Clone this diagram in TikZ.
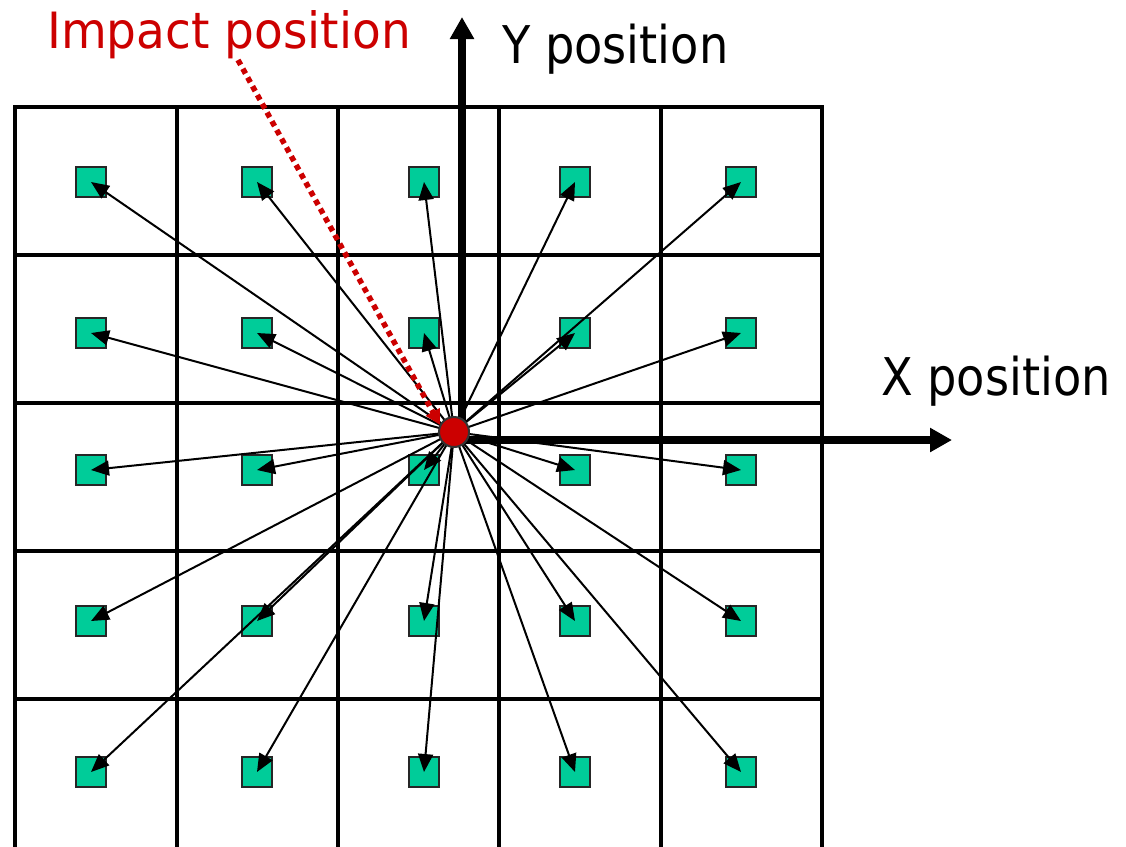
\documentclass[tikz,border=0pt]{standalone}
\usepackage{fontspec}
\setmainfont{DejaVu Sans}[FakeStretch=0.89]
\newfontfamily\impfont{DejaVu Sans}[FakeStretch=0.94]
\usetikzlibrary{arrows.meta}
\definecolor{impred}{RGB}{204,0,0}
\definecolor{sqgreen}{RGB}{0,204,153}
\tikzset{
  gridline/.style={line width=4pt,black},
  sensor/.style={draw=black!85,line width=2pt,fill=sqgreen,minimum size=30pt,inner sep=0pt,outer sep=0pt},
  ray/.style={line width=2pt,-{Triangle[length=18pt,width=15pt]}},
  axisline/.style={line width=7.5pt,-{Triangle[length=22pt,width=23pt]}},
  impact/.style={circle,draw=black!80,line width=2pt,fill=impred,minimum size=30pt,inner sep=0pt},
  pointer/.style={impred,line width=5.5pt,dash pattern=on 5.5pt off 4.5pt,-{Triangle[length=15pt,width=15pt]}},
  lbl/.style={inner sep=0pt,anchor=base west,font=\fontsize{52}{60}\selectfont}
}
\begin{document}
\begin{tikzpicture}[x=1pt,y=-1pt]
\useasboundingbox (0,0) rectangle (1126,846);
% grid
\foreach \gx in {15,177,338,499,661,822} \draw[gridline] (\gx,107) -- (\gx,848);
\foreach \gy in {107,255,403,551,699} \draw[gridline] (13,\gy) -- (824,\gy);
% sensors
\foreach \cx [count=\i] in {91,257,424,575,741}
  \foreach \cy [count=\j] in {182,333,470,621,772}
    \node[sensor] (s\i\j) at (\cx,\cy) {};
% impact point
\coordinate (imp) at (454,432);
% rays
\foreach \i in {1,...,5}
  \foreach \j in {1,...,5}
    \draw[ray] (imp) -- (s\i\j.center);
% axes
\coordinate (o) at (462,440);
\coordinate (yend) at (462,17);
\coordinate (xend) at (952,440);
\draw[axisline] ([yshift=3.75pt]o) -- (yend);
\draw[axisline] ([xshift=-3.75pt]o) -- (xend);
% impact dot
\node[impact] (dot) at (imp) {};
% labels
\node[lbl,text=impred,font=\impfont\fontsize{50}{60}\selectfont] (implbl) at (47,48) {Impact position};
\node[lbl] (ylbl) at (502,63) {Y position};
\node[lbl] (xlbl) at (881,395) {X position};
% pointer
\coordinate (pstart) at (238,60);
\draw[pointer] (pstart) -- (440,425);
\end{tikzpicture}
\end{document}
